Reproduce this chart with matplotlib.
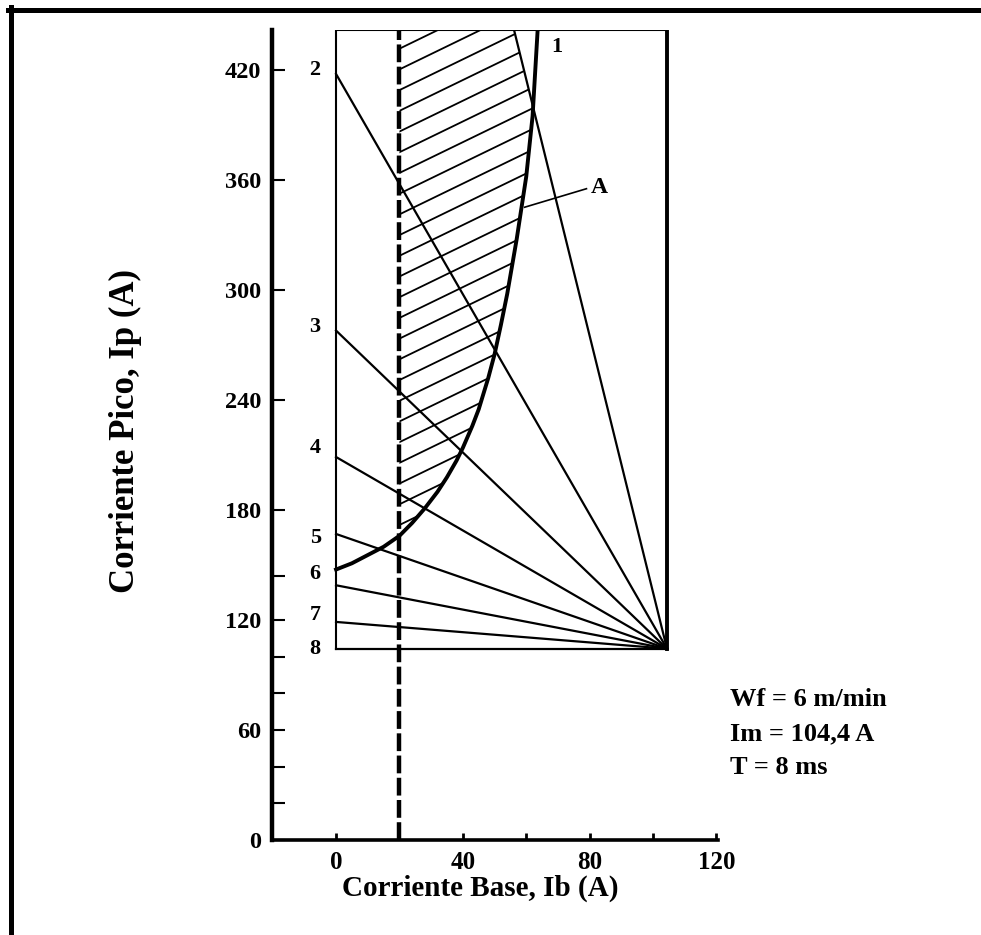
import numpy as np
import matplotlib.pyplot as plt
from matplotlib.lines import Line2D
from matplotlib.patches import Polygon

plt.rcParams['font.family'] = ['Liberation Serif', 'DejaVu Serif']
plt.rcParams['font.weight'] = 'bold'
plt.rcParams['axes.labelweight'] = 'bold'

# data
im = 104.4                      # mean current, A
ip_top = 442.                   # top of the diagram
ib_min = 20.                    # minimum base current (dashed)
tp_lab = ['1', '2', '3', '4', '5', '6', '7', '8']
ip0 = [835., 418., 278., 209., 167., 139., 119., 104.4]   # Ip at Ib = 0
lab_y = [None, 420, 280, 214, 165, 145, 123, 104]

# curve A (limit curve)
curve_ib = [0, 5, 10, 15, 20, 24, 28, 32, 35, 38, 40, 43, 45, 48, 50, 52, 54, 57, 60, 62, 63.6]
curve_ip = [147.6, 151, 155.5, 160, 166, 173, 181, 190, 198, 207, 214, 226, 235, 252, 265, 281,
            298, 328, 362, 395, 442]

yticks_major = [0, 60, 120, 180, 240, 300, 360, 420]
yticks_minor = [20, 40, 80, 100, 144]
xticks_major = [0, 40, 80, 120]
xticks_minor = [20, 60, 100]


fig = plt.figure(figsize=(9.81, 9.35), dpi=100)
ax = fig.add_axes([0.2773, 0.1016, 0.4546, 0.8663])
ax.set_xlim(-20.2, 120.5)
ax.set_ylim(0, ip_top)

# inner box
ax.plot([0, 0, im, im], [im, ip_top, ip_top, im], 'k-', lw=1.5, solid_joinstyle='miter')
ax.plot([im, im], [im, ip_top], 'k-', lw=2.8)

# constant pulse-time lines, all through (Im, Im)
for lab, y0, ly in zip(tp_lab, ip0, lab_y):
    ax.plot([0, im], [y0, im], 'k-', lw=1.6)
    if ly is not None:
        ax.text(-6.6, ly, lab, ha='center', va='center', fontsize=16)

# curve A
ax.plot(curve_ib, curve_ip, 'k-', lw=2.8, solid_joinstyle='round')

# hatched zone: right of Ib min, left of curve A and line 1
ipg = np.linspace(np.interp(ib_min, curve_ib, curve_ip), ip_top, 300)
ib_curve = np.interp(ipg, curve_ip, curve_ib)
ib_line1 = (ip0[0] - ipg) * im / (ip0[0] - im)
ib_right = np.minimum(ib_curve, ib_line1)
verts = [(ib_min, ipg[0])] + list(zip(ib_right, ipg)) + [(ib_min, ip_top)]
zone = Polygon(verts, closed=True, facecolor='none', edgecolor='none')
ax.add_patch(zone)
for c in np.arange(431.8, 150, -11.3):
    h, = ax.plot([ib_min, 75], [c, c + 0.84 * (75 - ib_min)], 'k-', lw=1.3)
    h.set_clip_path(zone)

# dashed Ib min line
ax.plot([ib_min, ib_min], [0, ip_top], 'k-', lw=3.2, dashes=(4, 1))

# labels on diagram
ax.text(69.5, 432.6, '1', ha='center', va='center', fontsize=16)
ax.plot([79, 59.5], [355.4, 345.3], 'k-', lw=1.2)
ax.text(80.5, 356, 'A', ha='left', va='center', fontsize=17)

# axes style
for s in ['top', 'right']:
    ax.spines[s].set_visible(False)
ax.spines['left'].set_linewidth(3.2)
ax.spines['bottom'].set_linewidth(2.6)
ax.set_yticks(yticks_major)
ax.set_yticks(yticks_minor, minor=True)
ax.set_xticks(xticks_major)
ax.set_xticks(xticks_minor, minor=True)
ax.tick_params(axis='y', which='both', direction='in', length=9, width=1.5, pad=8, labelsize=17.5)
ax.tick_params(axis='x', which='both', direction='in', length=5, width=2, pad=8, labelsize=18)

ax.set_xlabel('Corriente Base, Ib (A)', fontsize=21, fontweight='bold')
ax.set_ylabel('Corriente Pico, Ip (A)', fontsize=25, fontweight='bold')
ax.xaxis.set_label_coords(0.466, -0.043)
ax.yaxis.set_label_coords(-0.291, 0.505)

# test conditions
fig.text(730 / 981, 1 - 700 / 935, 'Wf = 6 m/min', ha='left', va='center', fontsize=19)
fig.text(730 / 981, 1 - 734 / 935, 'Im = 104,4 A', ha='left', va='center', fontsize=19)
fig.text(730 / 981, 1 - 767 / 935, 'T = 8 ms', ha='left', va='center', fontsize=19)

# frame around the picture (top and left edges)
fig.add_artist(Line2D([10.5 / 981, 10.5 / 981], [0, 1 - 7 / 935], color='k', lw=3.6,
                      transform=fig.transFigure))
fig.add_artist(Line2D([8 / 981, 1], [1 - 9.5 / 935, 1 - 9.5 / 935], color='k', lw=3.6,
                      transform=fig.transFigure))

plt.savefig('out.png', dpi=100)
